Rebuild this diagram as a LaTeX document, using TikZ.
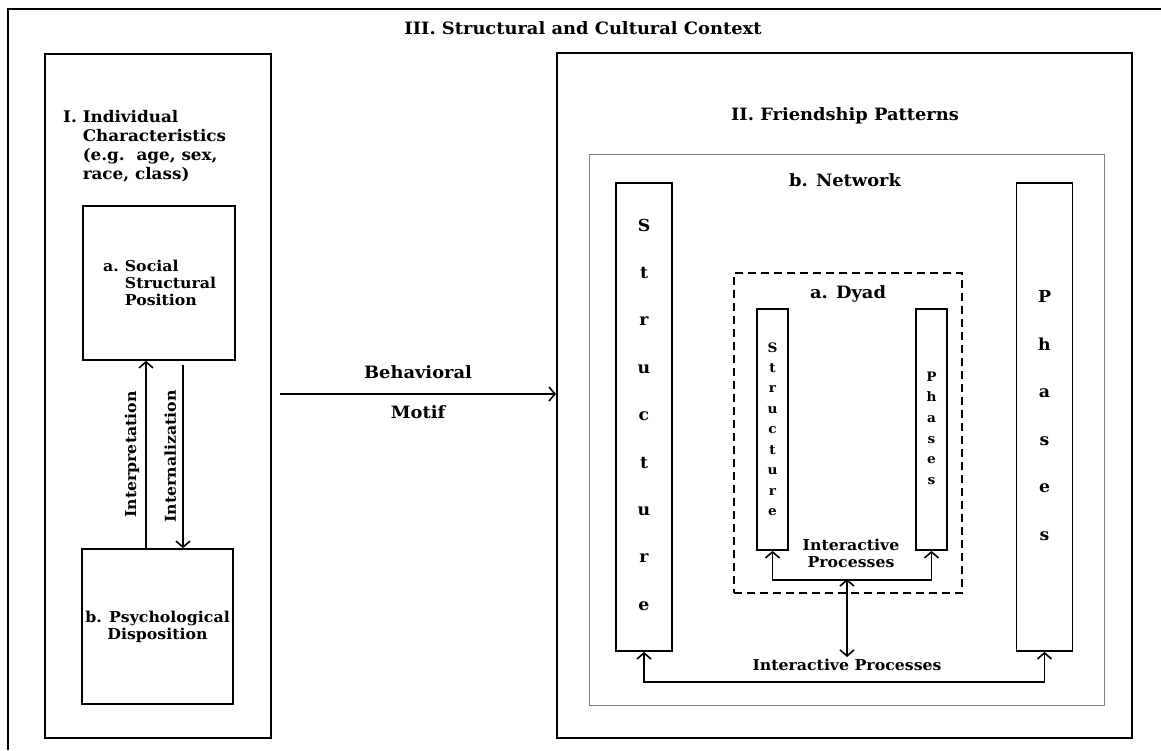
\documentclass[tikz,border=0pt]{standalone}
\usepackage{fontspec}
\setmainfont{DejaVu Serif}[FakeStretch=1.05]
\usetikzlibrary{arrows.meta}

\begin{document}
\begin{tikzpicture}[x=1pt,y=-1pt,>={Straight Barb[length=6pt,width=14pt]}]
	\tikzset{
		frame/.style={line width=1.9pt},
		box/.style={draw, line width=1.7pt, inner sep=0pt},
		bar/.style={draw, line width=1.8pt, inner sep=0pt},
		link/.style={line width=1.6pt},
		sec/.style={font=\fontsize{17}{20}\selectfont\bfseries},
		txt/.style={font=\fontsize{15}{17}\selectfont\bfseries, inner sep=0pt},
		bigletter/.style={font=\fontsize{16.5}{16}\selectfont\bfseries, anchor=base, inner sep=0pt},
		smallletter/.style={font=\fontsize{13}{13}\selectfont\bfseries, anchor=base, inner sep=0pt}
	}
	\useasboundingbox (0,0) rectangle (1161,750);

	% Outer frame III, cut at right and bottom
	\draw[frame] (8,750) -- (8,9) -- (1161,9);
	\node[sec] (context) at (583,28) {III. Structural and Cultural Context};

	% I. Individual characteristics
	\node[draw, frame, inner sep=0pt, minimum width=226pt, minimum height=684pt] (indiv) at (158,396) {};
	\node[txt, font=\fontsize{16}{19}\selectfont\bfseries, align=left, anchor=west] (indivtext) at (63,146)
		{I. Individual\\\hphantom{I. }Characteristics\\\hphantom{I. }(e.g.\ \ age, sex,\\\hphantom{I. }race, class)};

	% a. and b. boxes
	\node[box, minimum width=152pt, minimum height=154pt] (social) at (159,283) {};
	\node[txt, align=left, anchor=west] (socialtext) at (103,283)
		{a.\hspace{0.4em}Social\\\hphantom{a.\hspace{0.4em}}Structural\\\hphantom{a.\hspace{0.4em}}Position};
	\node[box, txt, minimum width=151pt, minimum height=155pt, align=center] (psych) at (157.5,626.5)
		{b. Psychological\\Disposition};

	% Interpretation / internalization
	\coordinate (upx) at (146,0);
	\coordinate (downx) at (183,0);
	\draw[link,->] (psych.north -| upx) -- (social.south -| upx)
		node[midway, txt, rotate=90, anchor=south, inner sep=6pt] {Interpretation};
	\draw[link,->] ([yshift=-4pt]social.south -| downx) -- (psych.north -| downx)
		node[midway, txt, rotate=90, anchor=south, inner sep=6pt] {Internalization};

	% II. Friendship patterns
	\node[draw, frame, inner sep=0pt, minimum width=575pt, minimum height=685pt] (friend) at (844.5,395.5) {};
	\node[sec] (friendtitle) at (845,116) {II. Friendship Patterns};

	% Behavioral motif
	\coordinate (motif) at (280,394);
	\draw[link,->] (motif) -- (motif -| friend.west)
		node[midway, sec, above=14pt, inner sep=0pt] {Behavioral}
		node[midway, sec, below=11pt, inner sep=0pt] {Motif};

	% b. Network
	\node[draw, gray, line width=0.8pt, minimum width=515pt, minimum height=551pt] (network) at (846.5,429.5) {};
	\node[sec] (networktitle) at (845,180) {b. Network};
	\node[bar, minimum width=56pt, minimum height=468pt] (snet) at (644,417) {};
	\node[bar, minimum width=56pt, minimum height=468pt] (pnet) at (1044.5,417) {};
	\foreach \l [count=\i from 0] in {S,t,r,u,c,t,u,r,e}
		\node[bigletter] (sn\i) at (644,231+47.4*\i) {\l};
	\foreach \l [count=\i from 0] in {P,h,a,s,e,s}
		\node[bigletter] (pn\i) at (1044.5,302.5+47.5*\i) {\l};

	% a. Dyad
	\node[draw, line width=1.8pt, dash pattern=on 8pt off 5pt, minimum width=228pt, minimum height=320pt] (dyad) at (848,433) {};
	\node[sec] (dyadtitle) at (848,294) {a. Dyad};
	\node[bar, minimum width=31pt, minimum height=241pt] (sdyad) at (772.5,429.5) {};
	\node[bar, minimum width=31pt, minimum height=241pt] (pdyad) at (931.5,429.5) {};
	\foreach \l [count=\i from 0] in {S,t,r,u,c,t,u,r,e}
		\node[smallletter] (sd\i) at (772.5,352+20.45*\i) {\l};
	\foreach \l [count=\i from 0] in {P,h,a,s,e,s}
		\node[smallletter] (pd\i) at (931.5,381+20.7*\i) {\l};

	% Interactive processes
	\node[txt, align=center] (dyadproc) at (851,553) {Interactive\\Processes};
	\draw[link,<->] (sdyad.south) -- ++(0,29) -| (pdyad.south);
	\coordinate (dyadlink) at (848,579);
	\node[txt, inner sep=2pt] (netproc) at (847,665) {Interactive Processes};
	\draw[link,<->] (netproc.north) -- (netproc.north |- dyadlink);
	\draw[link,<->] (snet.south) -- ++(0,30) -| (pnet.south);
\end{tikzpicture}
\end{document}
